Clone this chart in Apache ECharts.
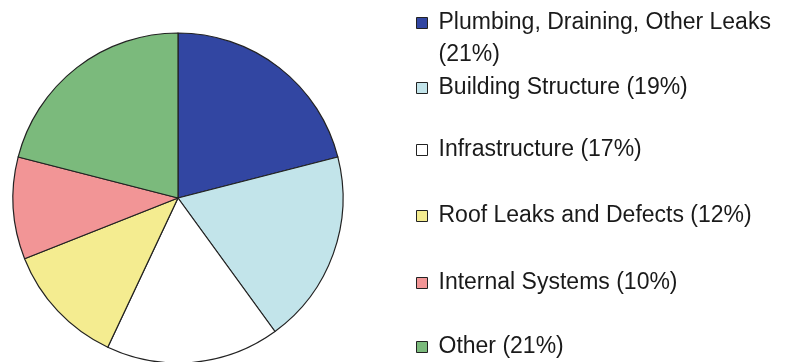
<!DOCTYPE html>
<html>
<head>
<meta charset="utf-8">
<script src="https://cdn.jsdelivr.net/npm/echarts@6/dist/echarts.min.js"></script>
<style>
html,body{margin:0;padding:0;background:#fff;}
#c{width:786px;height:362px;}
</style>
</head>
<body>
<div id="c"></div>
<script>
var categories = ['Plumbing, Draining, Other Leaks', 'Building Structure', 'Infrastructure', 'Roof Leaks and Defects', 'Internal Systems', 'Other'];
var values = [21, 19, 17, 12, 10, 21];
var colors = ['#3246A2', '#C2E4EA', '#FFFFFF', '#F4EC90', '#F29596', '#7BBA7C'];
var legendRowCenters = [23, 88, 150, 216, 283, 347];

var chart = echarts.init(document.getElementById('c'), null, {renderer: 'canvas'});

var LH = 32;
var legends = categories.map(function (name, i) {
  var twoLine = i === 0;
  var offset = twoLine ? (LH * 1.5) : LH / 2;
  return {
    show: true,
    orient: 'vertical',
    left: 416,
    top: legendRowCenters[i] - offset,
    padding: 0,
    itemWidth: 11,
    itemHeight: 11,
    icon: 'rect',
    selectedMode: false,
    data: [name],
    itemStyle: {borderColor: '#222', borderWidth: 1},
    formatter: function (n) {
      var idx = categories.indexOf(n);
      return twoLine ? ' \n' + n + '\n(' + values[idx] + '%)' : n + ' (' + values[idx] + '%)';
    },
    textStyle: {
      fontFamily: 'Liberation Sans, Arial, sans-serif',
      fontSize: 23,
      color: '#1a1a1a',
      lineHeight: LH,
      padding: [0, 0, 0, 6]
    }
  };
});

chart.setOption({
  animation: false,
  backgroundColor: '#ffffff',
  color: colors,
  legend: legends,
  series: [{
    type: 'pie',
    center: [178, 198],
    radius: 165,
    startAngle: 90,
    clockwise: true,
    label: {show: false},
    labelLine: {show: false},
    emphasis: {disabled: true},
    itemStyle: {borderColor: '#222', borderWidth: 1.2},
    data: categories.map(function (n, i) { return {name: n, value: values[i]}; })
  }]
});
</script>
</body>
</html>
